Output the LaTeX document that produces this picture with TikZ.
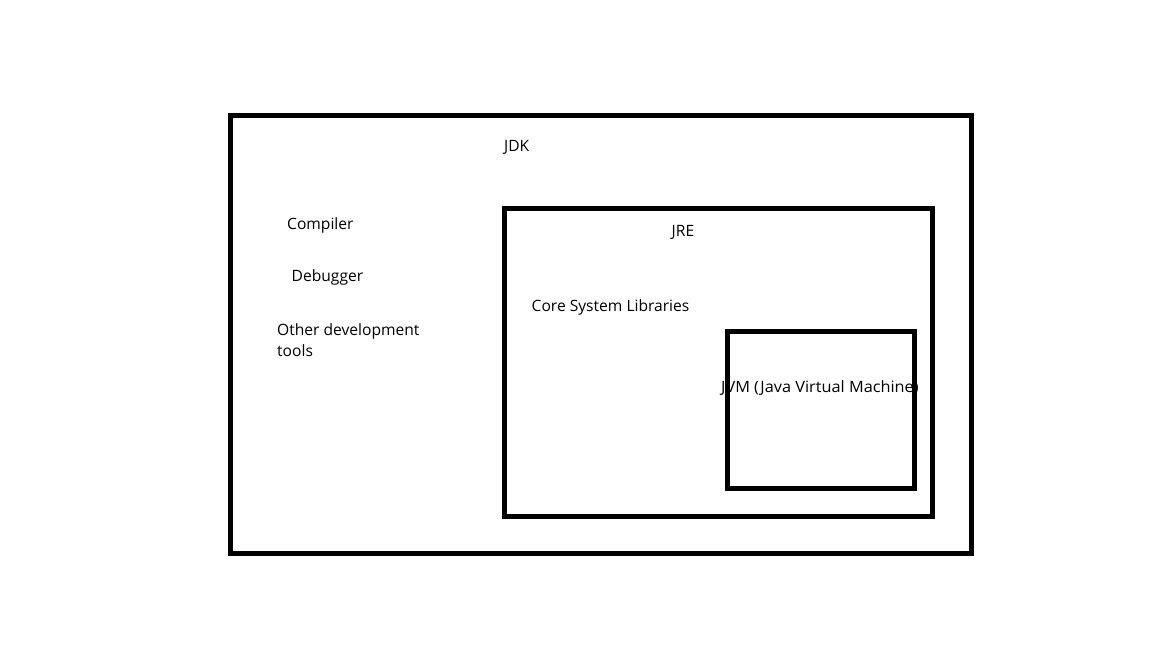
\documentclass[tikz,border=0pt]{standalone}
\usepackage{fontspec}
\setmainfont{Open Sans}
\begin{document}
\begin{tikzpicture}[x=1pt, y=-1pt,
    label/.style={anchor=base west, inner sep=0pt, align=left, font=\fontsize{15.6}{21.5}\selectfont},
    frame/.style={draw=black, line width=5pt}]
  \useasboundingbox (0,0) rectangle (1152,648);
  % texts
  \node[label] (jdk) at (504,151.5) {JDK};
  \node[label] (compiler) at (287,229) {Compiler};
  \node[label] (debugger) at (291.5,281.5) {Debugger};
  \node[label] (tools) at (277,356.5) {Other development\\tools};
  \node[label] (jre) at (671.5,236.5) {JRE};
  \node[label] (corelib) at (531.5,311.5) {Core System Libraries};
  \node[label] (jvm) at (721,392) {\scalebox{1.045}[1]{JVM (Java Virtual Machine)}};
  % boxes
  \draw[frame] (230,115.5) rectangle (971,553);
  \draw[frame] (504,208) rectangle (932,516);
  \draw[frame] (727.5,331) rectangle (914.5,488);
\end{tikzpicture}
\end{document}
